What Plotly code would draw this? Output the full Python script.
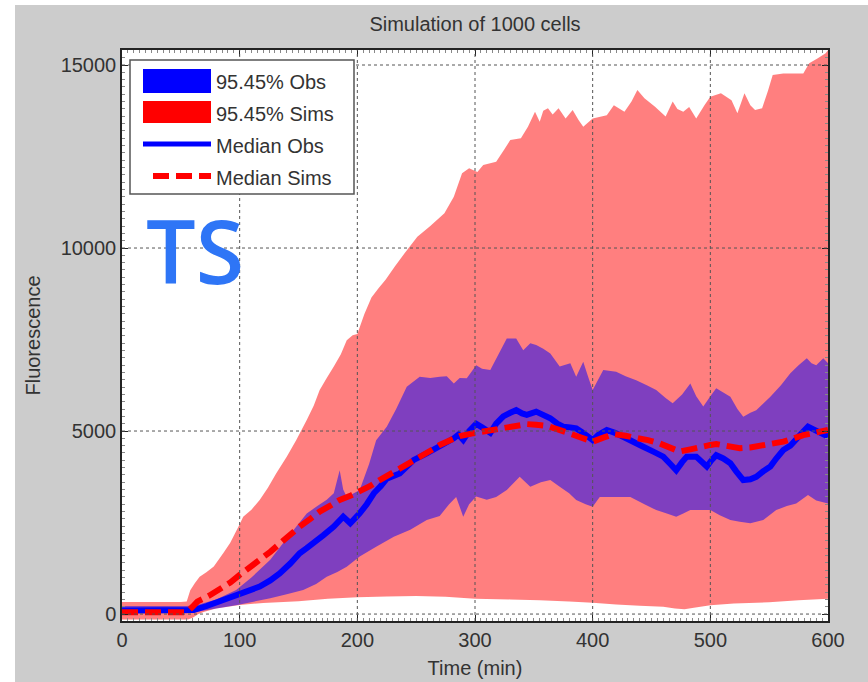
import plotly.graph_objects as go

# ---- data (time in minutes, fluorescence in a.u.) ----
SIMS_HI_T = [0, 50, 55, 58, 62, 66, 72, 78, 86, 92, 96, 100, 103, 110, 117, 124, 131, 140, 148, 157,
             163, 168, 174, 180, 186, 191, 196, 200, 206, 212, 218, 224, 232, 240, 251, 262, 274, 282,
             289, 295, 302, 307, 318, 325, 330, 339, 345, 351, 355, 358, 362, 366, 371, 377, 383, 388,
             392, 400, 412, 418, 427, 433, 438, 444, 453, 462, 468, 472, 477, 482, 488, 495, 500, 509,
             518, 523, 529, 534, 538, 544, 549, 553, 562, 579, 584, 591, 598, 600]
SIMS_HI = [330, 330, 340, 650, 850, 1020, 1150, 1300, 1660, 1950, 2200, 2450, 2660, 2850, 3115, 3450,
           3840, 4300, 4750, 5300, 5700, 6120, 6450, 6760, 7100, 7480, 7620, 7650, 8200, 8650, 8900,
           9130, 9500, 9850, 10310, 10600, 10950, 11400, 12040, 12180, 12080, 12270, 12360, 12700,
           12950, 13000, 13310, 13720, 13450, 13750, 13820, 13650, 13820, 13540, 13770, 13500, 13310,
           13540, 13630, 13900, 13720, 14000, 14320, 14090, 13860, 13590, 14000, 13800, 13720, 13850,
           13540, 13900, 14130, 14230, 14040, 13680, 14230, 13900, 13770, 13820, 14300, 14730, 14770,
           14770, 15050, 15180, 15320, 15400]

SIMS_LO_T = [0, 56, 60, 65, 70, 80, 90, 100, 120, 150, 175, 200, 225, 250, 275, 300, 330, 355, 380,
             400, 420, 440, 460, 470, 478, 486, 500, 520, 550, 575, 600]
SIMS_LO = [-150, -150, -100, 0, 60, 150, 200, 250, 300, 350, 420, 460, 480, 490, 470, 420, 400, 380,
           340, 310, 260, 230, 200, 150, 130, 170, 240, 290, 320, 380, 420]

OBS_HI_T = [0, 55, 63, 80, 97, 110, 126, 136, 146, 157, 166, 174, 180, 185, 188, 191, 197, 202, 210,
            216, 225, 233, 242, 253, 262, 270, 276, 282, 287, 293, 301, 306, 313, 320, 327, 335, 341,
            347, 352, 358, 364, 372, 381, 386, 392, 396, 400, 409, 420, 428, 437, 446, 454, 462, 468,
            476, 483, 488, 494, 500, 505, 511, 517, 523, 528, 534, 539, 545, 551, 560, 568, 575, 582,
            586, 590, 596, 600]
OBS_HI = [220, 220, 240, 400, 660, 1000, 1480, 1900, 2300, 2750, 2950, 3120, 3300, 3930, 3400, 3200,
          3300, 3390, 4100, 4750, 5120, 5600, 6210, 6480, 6450, 6480, 6500, 6300, 6450, 6440, 6800,
          6700, 6670, 7100, 7530, 7530, 7210, 7400, 7350, 7250, 7120, 6760, 6850, 6480, 6890, 6500,
          6120, 6670, 6620, 6500, 6390, 6250, 6120, 5900, 5760, 6000, 6300, 5950, 5670, 5950, 6170,
          6050, 5940, 5600, 5390, 5500, 5570, 5750, 5940, 6250, 6580, 6800, 6990, 6850, 6800, 6990,
          6850]

OBS_LO_T = [0, 55, 64, 80, 98, 126, 140, 154, 165, 174, 183, 191, 202, 216, 231, 245, 259, 270, 278,
            284, 290, 295, 301, 310, 318, 327, 338, 347, 356, 364, 372, 380, 386, 394, 400, 406, 420,
            432, 444, 454, 463, 471, 477, 483, 500, 508, 517, 525, 534, 545, 556, 565, 573, 583, 590,
            600]
OBS_LO = [20, 20, 60, 150, 250, 430, 540, 660, 820, 1020, 1150, 1290, 1570, 1840, 2110, 2300, 2570,
          2680, 3000, 3200, 2660, 3000, 3210, 3120, 3200, 3390, 3750, 3480, 3600, 3660, 3480, 3300,
          3115, 3000, 2930, 3200, 3200, 3200, 3000, 2840, 2750, 2660, 2750, 2840, 2840, 2700, 2570,
          2520, 2480, 2570, 2840, 2950, 3020, 3250, 3100, 3020]

OBS_MED_T = [0, 55, 61, 72, 83, 92, 100, 109, 117, 126, 134, 143, 151, 157, 163, 171, 180, 188, 194,
             198, 202, 208, 214, 220, 225, 236, 242, 248, 259, 270, 282, 286, 290, 295, 301, 306, 313,
             318, 324, 330, 335, 340, 344, 352, 358, 364, 370, 375, 381, 386, 392, 397, 400, 405, 412,
             419, 426, 435, 443, 452, 460, 466, 471, 476, 480, 488, 493, 497, 501, 505, 511, 517, 522,
             528, 534, 539, 545, 551, 556, 562, 568, 573, 578, 583, 587, 590, 595, 600]
OBS_MED = [100, 100, 110, 220, 340, 450, 565, 650, 750, 920, 1110, 1380, 1660, 1800, 1930, 2150, 2390,
           2660, 2480, 2600, 2750, 3000, 3300, 3500, 3700, 3840, 4000, 4210, 4390, 4570, 4800, 4900,
           4760, 5000, 5200, 5100, 4950, 5200, 5400, 5500, 5570, 5480, 5440, 5530, 5450, 5350, 5200,
           5120, 5100, 5070, 4950, 4800, 4750, 4900, 5030, 4950, 4850, 4700, 4570, 4430, 4300, 4100,
           3930, 4150, 4300, 4300, 4150, 4030, 4200, 4340, 4250, 4120, 3900, 3660, 3680, 3750, 3900,
           4030, 4250, 4480, 4600, 4750, 4950, 5120, 5050, 5000, 4950, 4850]

SIMS_MED_T = [0, 55, 60, 64, 74, 83, 92, 100, 109, 117, 126, 134, 143, 151, 160, 168, 177, 185, 194,
              202, 211, 219, 228, 236, 245, 253, 262, 270, 279, 287, 297, 307, 316, 327, 336, 344, 352,
              361, 371, 381, 391, 400, 409, 418, 428, 437, 447, 457, 466, 474, 483, 491, 500, 505, 515,
              525, 534, 542, 552, 562, 571, 579, 590, 600]
SIMS_MED = [50, 50, 200, 340, 500, 660, 860, 1070, 1270, 1480, 1700, 1930, 2160, 2390, 2600, 2800,
            2960, 3120, 3230, 3340, 3500, 3660, 3820, 3980, 4140, 4300, 4460, 4620, 4740, 4860, 4930,
            4980, 5030, 5110, 5160, 5190, 5170, 5140, 5040, 4940, 4820, 4710, 4820, 4920, 4870, 4830,
            4750, 4660, 4550, 4440, 4500, 4570, 4620, 4645, 4590, 4530, 4550, 4590, 4650, 4710, 4800,
            4890, 4960, 5030]

X_TICKS = [0, 100, 200, 300, 400, 500, 600]
Y_TICKS = [0, 5000, 10000, 15000]
Y_TICK_TEXT = ["0", "5000", "10000", "15000"]
LEGEND_LABELS = ["95.45% Obs", "95.45% Sims", "Median Obs", "Median Sims"]

# ---- page geometry (pixels) ----
FIG_W, FIG_H = 868, 682
PLOT_L, PLOT_R, PLOT_T, PLOT_B = 122, 828, 50, 621
PW, PH = PLOT_R - PLOT_L, PLOT_B - PLOT_T


def px_x(p):
    return (p - PLOT_L) / PW


def px_y(p):
    return (PLOT_B - p) / PH


FONT = "Liberation Sans, Arial, Helvetica, sans-serif"
TXT = "#333333"
RED = "#ff0000"
BLUE = "#0000ff"
DASH = "16px,7px"


def band(t_hi, hi, t_lo, lo, color, name):
    return go.Scatter(x=list(t_hi) + list(t_lo)[::-1], y=list(hi) + list(lo)[::-1],
                      fill="toself", fillcolor=color, mode="none", name=name,
                      hoverinfo="skip", showlegend=False)


fig = go.Figure()
fig.add_trace(band(SIMS_HI_T, SIMS_HI, SIMS_LO_T, SIMS_LO, "rgba(255,0,0,0.5)", LEGEND_LABELS[1]))
fig.add_trace(band(OBS_HI_T, OBS_HI, OBS_LO_T, OBS_LO, "rgba(0,0,255,0.5)", LEGEND_LABELS[0]))
fig.add_trace(go.Scatter(x=OBS_MED_T, y=OBS_MED, mode="lines", name=LEGEND_LABELS[2],
                         line=dict(color=BLUE, width=6), showlegend=False))
fig.add_trace(go.Scatter(x=SIMS_MED_T, y=SIMS_MED, mode="lines", name=LEGEND_LABELS[3],
                         line=dict(color=RED, width=6, dash=DASH), showlegend=False))

shapes = []
# dotted grid drawn over the bands
for xv in X_TICKS[1:-1]:
    shapes.append(dict(type="line", xref="x", yref="paper", x0=xv, x1=xv, y0=0, y1=1,
                       line=dict(color="#555555", width=1, dash="dot"), layer="above"))
for yv in Y_TICKS:
    shapes.append(dict(type="line", xref="paper", yref="y", x0=0, x1=1, y0=yv, y1=yv,
                       line=dict(color="#555555", width=1, dash="dot"), layer="above"))

# white strips along the left and top of the page
shapes.append(dict(type="rect", xref="paper", yref="paper", x0=px_x(0), x1=px_x(15),
                   y0=px_y(FIG_H), y1=px_y(0), fillcolor="white", line=dict(width=0), layer="above"))
shapes.append(dict(type="rect", xref="paper", yref="paper", x0=px_x(0), x1=px_x(FIG_W),
                   y0=px_y(5), y1=px_y(0), fillcolor="white", line=dict(width=0), layer="above"))

# legend box
shapes.append(dict(type="rect", xref="paper", yref="paper", x0=px_x(130), x1=px_x(354),
                   y0=px_y(194), y1=px_y(60), fillcolor="white",
                   line=dict(color="#555555", width=1.5), layer="above"))
shapes.append(dict(type="rect", xref="paper", yref="paper", x0=px_x(143), x1=px_x(211),
                   y0=px_y(93), y1=px_y(69), fillcolor=BLUE, line=dict(width=0), layer="above"))
shapes.append(dict(type="rect", xref="paper", yref="paper", x0=px_x(143), x1=px_x(211),
                   y0=px_y(123), y1=px_y(101), fillcolor=RED, line=dict(width=0), layer="above"))
shapes.append(dict(type="line", xref="paper", yref="paper", x0=px_x(143), x1=px_x(211),
                   y0=px_y(144), y1=px_y(144), line=dict(color=BLUE, width=5), layer="above"))
shapes.append(dict(type="line", xref="paper", yref="paper", x0=px_x(153), x1=px_x(211),
                   y0=px_y(176), y1=px_y(176), line=dict(color=RED, width=6, dash=DASH),
                   layer="above"))

annotations = []
for label, yc in zip(LEGEND_LABELS, [82, 114, 146, 178]):
    annotations.append(dict(text=label, xref="paper", yref="paper", x=px_x(214), y=px_y(yc),
                            xanchor="left", yanchor="middle", showarrow=False,
                            font=dict(family=FONT, size=20, color=TXT)))
annotations.append(dict(text="TS", xref="paper", yref="paper", x=px_x(144), y=px_y(250),
                        xanchor="left", yanchor="middle", showarrow=False,
                        font=dict(family="Open Sans, sans-serif", size=88, color="#2e75f6",
                                  weight=600)))

axis_common = dict(showline=True, linecolor="#222222", linewidth=1.5, mirror="allticks",
                   ticks="inside", ticklen=6, tickcolor="#222222", showgrid=False, zeroline=False,
                   tickfont=dict(family=FONT, size=20, color=TXT), automargin=False)

fig.update_layout(
    width=FIG_W, height=FIG_H,
    margin=dict(l=PLOT_L, r=FIG_W - PLOT_R, t=PLOT_T, b=FIG_H - PLOT_B),
    paper_bgcolor="#cccccc", plot_bgcolor="white",
    showlegend=False,
    title=dict(text="Simulation of 1000 cells", x=0.5, xref="paper", xanchor="center",
               y=1 - 24 / FIG_H, yref="container", yanchor="middle",
               font=dict(family=FONT, size=20, color=TXT)),
    xaxis=dict(range=[0, 600], tickvals=X_TICKS,
               title=dict(text="Time (min)", standoff=11, font=dict(family=FONT, size=20, color=TXT)),
               minor=dict(dtick=5, ticks="inside", ticklen=3, tickcolor="#888888", showgrid=False),
               **axis_common),
    yaxis=dict(range=[-190, 15410], tickvals=Y_TICKS, ticktext=Y_TICK_TEXT,
               title=dict(text="Fluorescence", standoff=15, font=dict(family=FONT, size=20, color=TXT)),
               minor=dict(dtick=200, ticks="inside", ticklen=3, tickcolor="#888888", showgrid=False),
               **axis_common),
    shapes=shapes,
    annotations=annotations,
)

fig.write_html("out.html")
